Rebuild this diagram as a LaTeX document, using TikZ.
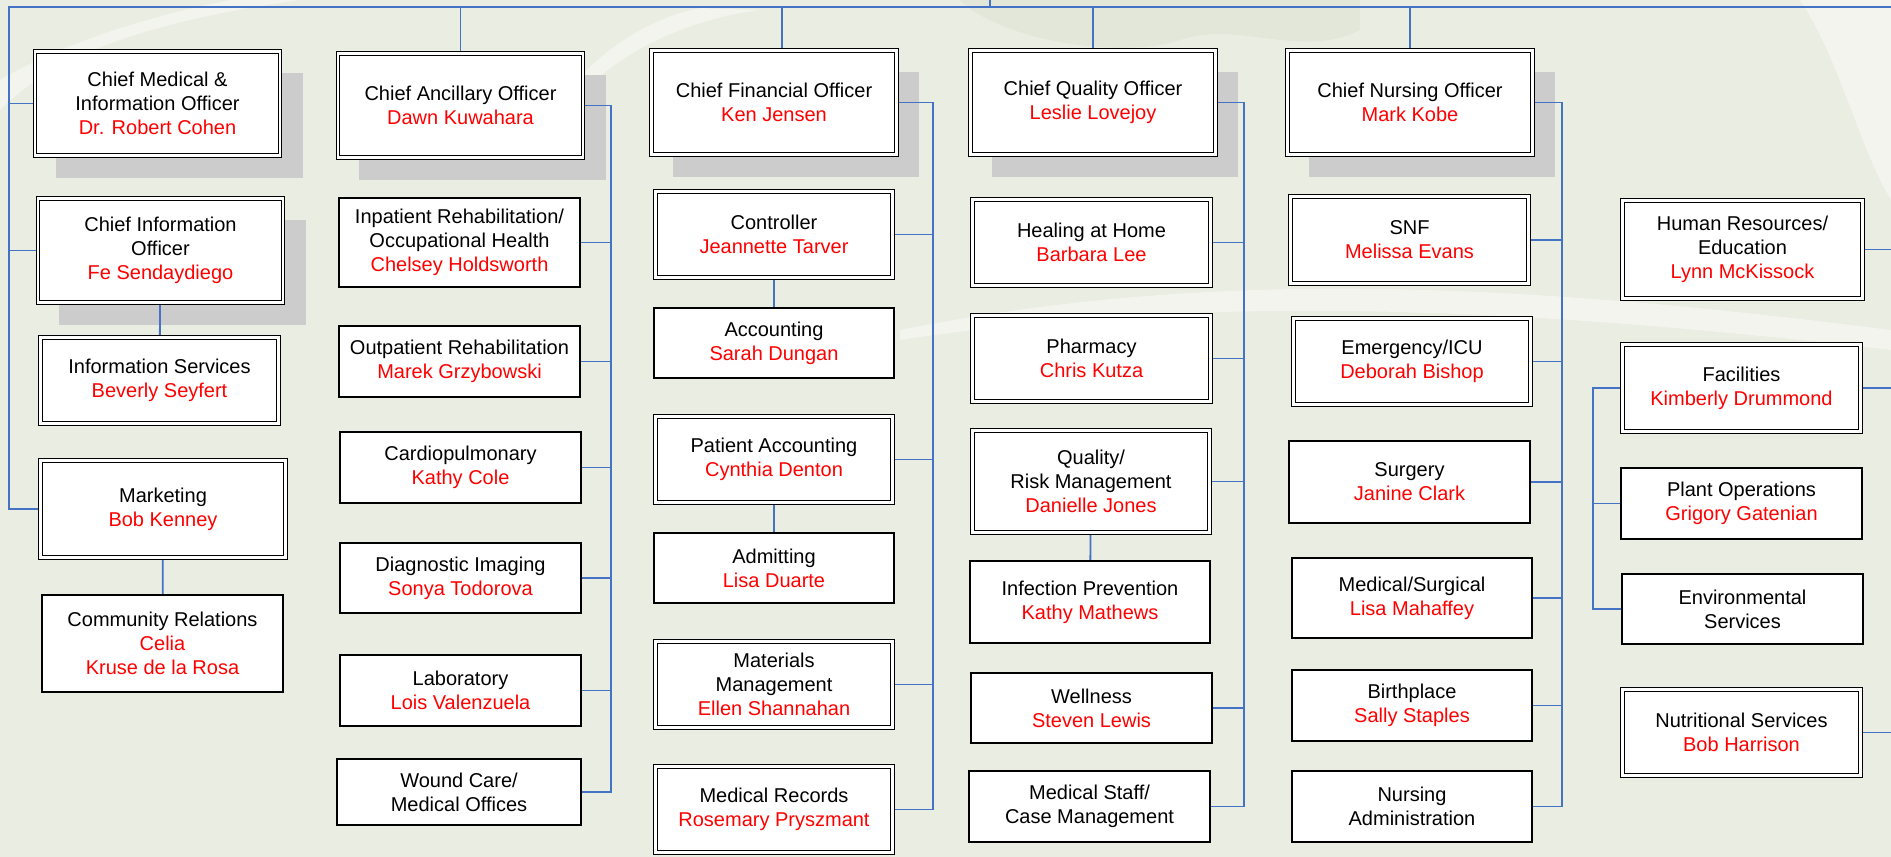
\documentclass[tikz,border=0pt]{standalone}
\usepackage{fontspec}
\setmainfont{Liberation Sans}

\definecolor{wire}{RGB}{68,114,196}
\definecolor{paper}{RGB}{234,237,226}
\definecolor{swoosh}{RGB}{242,244,237}
\definecolor{hill}{RGB}{227,231,217}
\definecolor{shadowgray}{RGB}{204,204,204}
\definecolor{namered}{RGB}{255,0,0}

\pgfdeclarelayer{back}
\pgfdeclarelayer{wires}
\pgfsetlayers{back,wires,main}

\tikzset{
  dept/.style={draw=black, line width=1.6pt, fill=white, align=center, inner sep=2pt,
    minimum width=241pt, minimum height=71pt, font=\fontsize{20}{24}\selectfont},
  ddept/.style={dept, line width=1.3pt, double=white, double distance=2.2pt,
    minimum width=238pt, minimum height=86pt},
  chief/.style={ddept, minimum width=245pt, minimum height=104pt},
  link/.style={draw=wire, line width=1.8pt},
}
\newcommand{\who}[1]{\textcolor{namered}{#1}}

\begin{document}
\begin{tikzpicture}[x=1pt, y=-1pt]
    \useasboundingbox (0,0) rectangle (1891,857);

    % column 1
    \node[chief] (cmo) at (157.5,103.5) {Chief Medical \&\\Information Officer\\\who{Dr. Robert Cohen}};
    \node[chief] (cio) at (160.5,250.5) {Chief Information\\Officer\\\who{Fe Sendaydiego}};
    \node[ddept] (infs) at (159.5,380.5) {Information Services\\\who{Beverly Seyfert}};
    \node[ddept, minimum width=245pt, minimum height=97pt] (mkt) at (163,509) {Marketing\\\who{Bob Kenney}};
    \node[dept, minimum height=97pt] (comm) at (162.5,643.5) {Community Relations\\\who{Celia}\\\who{Kruse de la Rosa}};

    % column 2
    \node[chief] (cao) at (460.5,105.5) {Chief Ancillary Officer\\\who{Dawn Kuwahara}};
    \node[dept, minimum height=89pt] (inpt) at (459.5,242.5) {Inpatient Rehabilitation/\\Occupational Health\\\who{Chelsey Holdsworth}};
    \node[dept] (outpt) at (459.5,361.5) {Outpatient Rehabilitation\\\who{Marek Grzybowski}};
    \node[dept] (cardio) at (460.5,467.5) {Cardiopulmonary\\\who{Kathy Cole}};
    \node[dept, minimum height=70pt] (diag) at (460.5,578) {Diagnostic Imaging\\\who{Sonya Todorova}};
    \node[dept] (lab) at (460.5,690.5) {Laboratory\\\who{Lois Valenzuela}};
    \node[dept, minimum width=244pt, minimum height=66pt] (wound) at (459,792) {Wound Care/\\Medical Offices};

    % column 3
    \node[chief] (cfo) at (774,102.5) {Chief Financial Officer\\\who{Ken Jensen}};
    \node[ddept, minimum width=237pt] (ctrl) at (774,234.5) {Controller\\\who{Jeannette Tarver}};
    \node[dept, minimum width=240pt, minimum height=70pt] (acct) at (774,343) {Accounting\\\who{Sarah Dungan}};
    \node[ddept, minimum width=237pt] (pacct) at (774,459.5) {Patient Accounting\\\who{Cynthia Denton}};
    \node[dept, minimum width=240pt, minimum height=70pt] (admit) at (774,568) {Admitting\\\who{Lisa Duarte}};
    \node[ddept, minimum width=237pt] (matl) at (774,684.5) {Materials\\Management\\\who{Ellen Shannahan}};
    \node[ddept, minimum width=237pt] (medrec) at (774,809.5) {Medical Records\\\who{Rosemary Pryszmant}};

    % column 4
    \node[chief] (cqo) at (1093,102.5) {Chief Quality Officer\\\who{Leslie Lovejoy}};
    \node[ddept] (heal) at (1091.5,242.5) {Healing at Home\\\who{Barbara Lee}};
    \node[ddept] (pharm) at (1091.5,358.5) {Pharmacy\\\who{Chris Kutza}};
    \node[ddept, minimum width=237pt, minimum height=102pt] (qual) at (1091,481.5) {Quality/\\Risk Management\\\who{Danielle Jones}};
    \node[dept, minimum width=240pt, minimum height=82pt] (infp) at (1090,602) {Infection Prevention\\\who{Kathy Mathews}};
    \node[dept, minimum height=70pt] (well) at (1091.5,708) {Wellness\\\who{Steven Lewis}};
    \node[dept] (mstaff) at (1089.5,806.5) {Medical Staff/\\Case Management};

    % column 5
    \node[chief] (cno) at (1410,102.5) {Chief Nursing Officer\\\who{Mark Kobe}};
    \node[ddept, minimum height=87pt] (snf) at (1409.5,240) {SNF\\\who{Melissa Evans}};
    \node[ddept, minimum width=237pt] (emer) at (1412,361.5) {Emergency/ICU\\\who{Deborah Bishop}};
    \node[dept, minimum height=82pt] (surg) at (1409.5,482) {Surgery\\\who{Janine Clark}};
    \node[dept, minimum width=240pt, minimum height=80pt] (medsurg) at (1412,598) {Medical/Surgical\\\who{Lisa Mahaffey}};
    \node[dept, minimum width=240pt] (birth) at (1412,705.5) {Birthplace\\\who{Sally Staples}};
    \node[dept, minimum width=240pt] (nadmin) at (1412,806.5) {Nursing\\Administration};

    % column 6
    \node[ddept, minimum width=240pt, minimum height=98pt] (hr) at (1742.5,249.5) {Human Resources/\\Education\\\who{Lynn McKissock}};
    \node[ddept, minimum height=87pt] (fac) at (1741.5,388) {Facilities\\\who{Kimberly Drummond}};
    \node[dept] (plant) at (1741.5,503.5) {Plant Operations\\\who{Grigory Gatenian}};
    \node[dept, minimum height=70pt] (env) at (1742.5,609) {Environmental\\Services};
    \node[ddept] (nutr) at (1741.5,732.5) {Nutritional Services\\\who{Bob Harrison}};

    \coordinate (busL) at (9,7);
    \coordinate (busR) at (1891,7);
    \coordinate (ceo) at (990,0);
    \coordinate (b2) at (611,0);
    \coordinate (b3) at (933,0);
    \coordinate (b4) at (1244,0);
    \coordinate (b5) at (1562,0);
    \coordinate (b6) at (1593,0);
    \coordinate (edge) at (1891,0);

    \begin{pgfonlayer}{wires}
        \draw[link] (busR) -- (busL) |- (mkt.west);
        \draw[link] (ceo) -- (ceo |- busL);
        \foreach \n in {cmo,cio} \draw[link] (\n.west) -- (\n.west -| busL);
        \foreach \n in {cao,cqo,cno} \draw[link] (\n.north) -- (\n.north |- busL);
        \draw[link] ([xshift=8pt]cfo.north) -- ([xshift=8pt]cfo.north |- busL);

        \draw[link] (cio) -- (infs);
        \draw[link] (mkt) -- (comm);
        \draw[link] (ctrl) -- (acct);
        \draw[link] (pacct) -- (admit);
        \draw[link] (qual) -- (infp);

        \draw[link] (cao.east) -| (b2 |- wound.east) -- (wound.east);
        \foreach \n in {inpt,outpt,cardio,diag,lab} \draw[link] (\n.east) -- (\n.east -| b2);

        \draw[link] (cfo.east) -| (b3 |- medrec.east) -- (medrec.east);
        \foreach \n in {ctrl,pacct,matl} \draw[link] (\n.east) -- (\n.east -| b3);

        \draw[link] (cqo.east) -| (b4 |- mstaff.east) -- (mstaff.east);
        \foreach \n in {heal,pharm,qual,well} \draw[link] (\n.east) -- (\n.east -| b4);

        \draw[link] (cno.east) -| (b5 |- nadmin.east) -- (nadmin.east);
        \foreach \n in {snf,emer,surg,medsurg,birth} \draw[link] (\n.east) -- (\n.east -| b5);

        \draw[link] (fac.west) -| (b6 |- env.west) -- (env.west);
        \draw[link] (plant.west) -- (plant.west -| b6);
        \foreach \n in {hr,fac,nutr} \draw[link] (\n.east) -- (\n.east -| edge);
    \end{pgfonlayer}

    \begin{pgfonlayer}{back}
        \fill[paper] (0,0) rectangle (1891,857);
        % soft background swooshes
        \fill[hill] (960,0) .. controls (1000,40) and (1120,60) .. (1180,40) .. controls (1240,20) and (1300,60) .. (1360,30) -- (1360,0) -- cycle;
        \fill[swoosh] (0,110) .. controls (60,50) and (160,20) .. (300,0) -- (230,0) .. controls (130,20) and (50,50) .. (0,80) -- cycle;
        \fill[swoosh] (560,120) .. controls (600,60) and (680,20) .. (760,10) -- (700,8) .. controls (640,20) and (590,60) .. (560,100) -- cycle;
        \fill[swoosh] (900,330) .. controls (1200,270) and (1500,280) .. (1891,330) -- (1891,350) .. controls (1500,305) and (1200,295) .. (900,340) -- cycle;
        \fill[swoosh] (1800,0) .. controls (1840,60) and (1860,150) .. (1891,200) -- (1891,0) -- cycle;
        \foreach \n in {cmo,cio,cao,cfo,cqo,cno}
            \fill[shadowgray] ([shift={(22pt,-22pt)}]\n.south west) rectangle ([shift={(22pt,-22pt)}]\n.north east);
    \end{pgfonlayer}

\end{tikzpicture}
\end{document}
